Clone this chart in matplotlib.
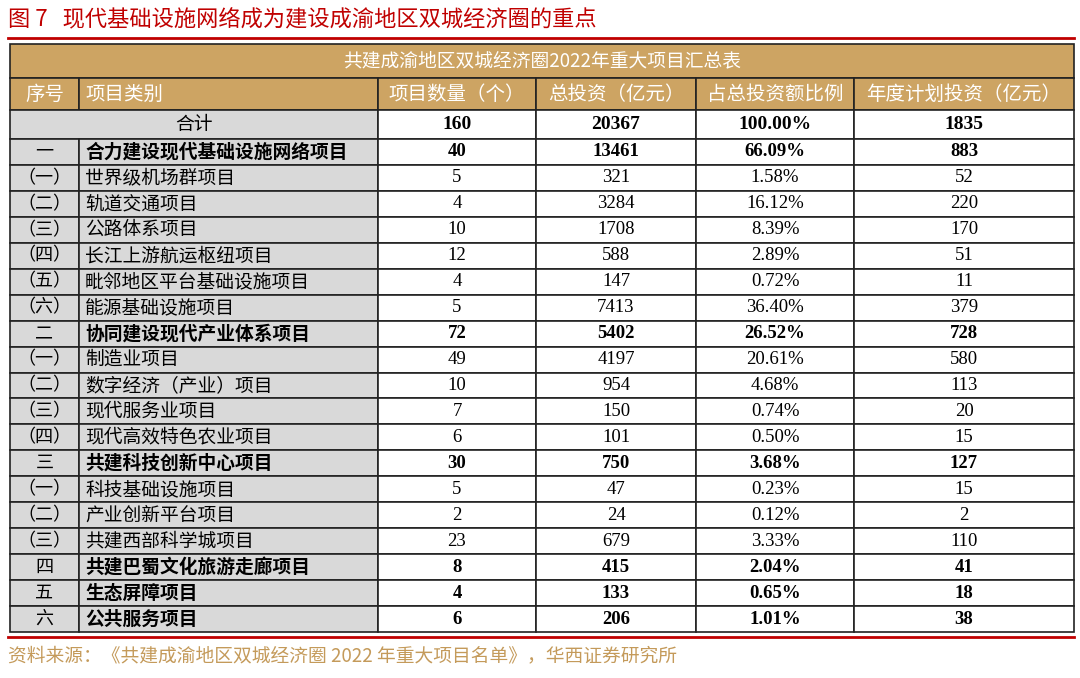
import matplotlib
matplotlib.use("Agg")
import matplotlib.pyplot as plt
from matplotlib.patches import Rectangle

plt.rcParams['font.family'] = ['Noto Sans CJK SC', 'DejaVu Sans']

seq = ["一", "（一）", "（二）", "（三）", "（四）", "（五）", "（六）", "二", "（一）", "（二）", "（三）", "（四）",
       "三", "（一）", "（二）", "（三）", "四", "五", "六"]
cats = ["合力建设现代基础设施网络项目", "世界级机场群项目", "轨道交通项目", "公路体系项目", "长江上游航运枢纽项目",
        "毗邻地区平台基础设施项目", "能源基础设施项目", "协同建设现代产业体系项目", "制造业项目", "数字经济（产业）项目",
        "现代服务业项目", "现代高效特色农业项目", "共建科技创新中心项目", "科技基础设施项目", "产业创新平台项目",
        "共建西部科学城项目", "共建巴蜀文化旅游走廊项目", "生态屏障项目", "公共服务项目"]
counts = ["40", "5", "4", "10", "12", "4", "5", "72", "49", "10", "7", "6", "30", "5", "2", "23", "8", "4", "6"]
invest = ["13461", "321", "3284", "1708", "588", "147", "7413", "5402", "4197", "954", "150", "101", "750", "47", "24", "679", "415", "133", "206"]
share = ["66.09%", "1.58%", "16.12%", "8.39%", "2.89%", "0.72%", "36.40%", "26.52%", "20.61%", "4.68%", "0.74%", "0.50%",
         "3.68%", "0.23%", "0.12%", "3.33%", "2.04%", "0.65%", "1.01%"]
annual = ["883", "52", "220", "170", "51", "11", "379", "728", "580", "113", "20", "15", "127", "15", "2", "110", "41", "18", "38"]
bold = [True, False, False, False, False, False, False, True, False, False, False, False, True, False, False, False, True, True, True]
total = ["160", "20367", "100.00%", "1835"]
headers = ["序号", "项目类别", "项目数量（个）", "总投资（亿元）", "占总投资额比例", "年度计划投资（亿元）"]
table_title = "共建成渝地区双城经济圈2022年重大项目汇总表"
fig_title = "图 7   现代基础设施网络成为建设成渝地区双城经济圈的重点"
source = "资料来源：《共建成渝地区双城经济圈 2022 年重大项目名单》，华西证券研究所"

W, H = 1080, 678
fig = plt.figure(figsize=(W/100, H/100), dpi=100)
ax = fig.add_axes([0, 0, 1, 1])
ax.set_xlim(0, W); ax.set_ylim(H, 0); ax.axis('off')

TAN = "#CDA463"; GRAY = "#D9D9D9"; RED = "#C00000"
SERIF = ['Liberation Serif', 'Noto Sans CJK SC']
xs = [10, 79, 378, 536, 696, 854, 1074]
y_title, y_head, y_tot, y_first, y_end = 44, 78, 110, 139, 632
rh = (y_end - y_first) / len(cats)

ax.text(8, 20, fig_title, color=RED, fontsize=16, va='center', ha='left')
ax.plot([8, 1074], [38, 38], color=RED, lw=2)

def rect(x0, y0, x1, y1, fc):
    ax.add_patch(Rectangle((x0, y0), x1 - x0, y1 - y0, fc=fc, ec="#222222", lw=1.2))

rect(xs[0], y_title, xs[-1], y_head, TAN)
ax.text((xs[0]+xs[-1])/2, (y_title+y_head)/2, table_title, color='white', fontsize=13.5, ha='center', va='center')
for i, h in enumerate(headers):
    rect(xs[i], y_head, xs[i+1], y_tot, TAN)
    if i == 1:
        ax.text(xs[i]+6, (y_head+y_tot)/2, h, color='white', fontsize=14, ha='left', va='center')
    else:
        ax.text((xs[i]+xs[i+1])/2, (y_head+y_tot)/2, h, color='white', fontsize=14, ha='center', va='center')

rect(xs[0], y_tot, xs[2], y_first, GRAY)
ax.text((xs[0]+xs[2])/2, (y_tot+y_first)/2, "合计", fontsize=13.5, ha='center', va='center')
for j, v in enumerate(total):
    rect(xs[j+2], y_tot, xs[j+3], y_first, 'white')
    ax.text((xs[j+2]+xs[j+3])/2, (y_tot+y_first)/2, v, fontsize=14, ha='center', va='center', weight='bold', family=SERIF)

for r in range(len(cats)):
    y0 = y_first + r*rh; y1 = y0 + rh; yc = (y0+y1)/2
    w = 'bold' if bold[r] else 'normal'
    rect(xs[0], y0, xs[1], y1, GRAY)
    rect(xs[1], y0, xs[2], y1, GRAY)
    ax.text((xs[0]+xs[1])/2, yc, seq[r], fontsize=13, ha='center', va='center')
    ax.text(xs[1]+6, yc, cats[r], fontsize=13.5, ha='left', va='center', weight=w)
    for j, col in enumerate([counts, invest, share, annual]):
        rect(xs[j+2], y0, xs[j+3], y1, 'white')
        ax.text((xs[j+2]+xs[j+3])/2, yc, col[r], fontsize=13.5, ha='center', va='center', weight=w, family=SERIF)

ax.plot([8, 1074], [637, 637], color=RED, lw=2)
ax.text(8, 656, source, color="#C49A5A", fontsize=13.5, ha='left', va='center')

fig.savefig("out.png", dpi=100)
